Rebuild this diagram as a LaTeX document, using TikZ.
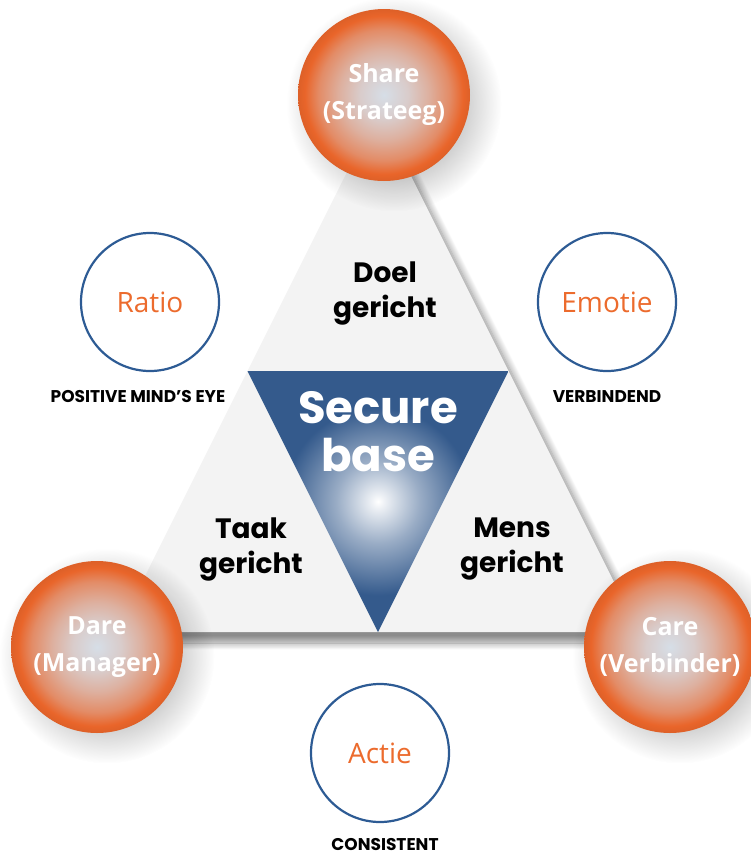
\documentclass[tikz,border=0pt]{standalone}
\usepackage{fontspec}
\setmainfont{Open Sans}
\newfontfamily\geofont{Poppins}
\usetikzlibrary{shadows.blur,fadings}
\usepackage{xcolor}

\definecolor{ballorange}{HTML}{E9652A}
\definecolor{ballmid}{HTML}{D6DEE7}
\definecolor{basefill}{HTML}{F3F3F3}
\definecolor{sbblue}{HTML}{345A8C}
\definecolor{ringblue}{HTML}{2D5B94}
\definecolor{labelorange}{HTML}{EC6B2D}

\pgfdeclareradialshading{ball}{\pgfpoint{0bp}{0bp}}{color(0bp)=(ballmid); color(7bp)=(ballmid!85!ballorange); color(13bp)=(ballmid!62!ballorange); color(19bp)=(ballmid!32!ballorange); color(23bp)=(ballorange); color(25bp)=(ballorange!95!black); color(50bp)=(ballorange!95!black)}
\pgfdeclareradialshading{glow}{\pgfpoint{0bp}{0bp}}{color(0bp)=(white); color(1.5bp)=(white!90!sbblue); color(8bp)=(sbblue!50!white); color(18bp)=(sbblue); color(50bp)=(sbblue)}
% soft round shadow: solid core, fuzzy rim
\pgfdeclareradialshading{softdiscshade}{\pgfpointorigin}{color(0bp)=(white); color(15bp)=(white); color(25bp)=(black); color(50bp)=(black)}
\pgfdeclarefading{softdisc}{\pgfuseshading{softdiscshade}}

\begin{document}
\begin{tikzpicture}[x=1pt,y=-1pt,
  ball/.style={circle,minimum size=172pt,inner sep=0pt,shading=ball,align=center,text=white,
    font=\bfseries\fontsize{25}{37}\selectfont},
  ballshadow/.style={circle,minimum size=215pt,inner sep=0pt,fill=black,fill opacity=.22,path fading=softdisc},
  ring/.style={circle,minimum size=138pt,inner sep=0pt,draw=ringblue,line width=2.2pt,text=labelorange,
    font=\fontsize{28}{34}\selectfont},
  side/.style={align=center,font=\geofont\bfseries\fontsize{28}{35}\selectfont},
  tag/.style={font=\geofont\bfseries\fontsize{17}{20}\selectfont}]
\useasboundingbox (0,0) rectangle (751,855);

% outer triangle and the secure base inside it
\coordinate (apex) at (378,110);
\coordinate (bl) at (117,632);
\coordinate (br) at (639,632);
\coordinate (ml) at (247.5,371);
\coordinate (mr) at (508.5,371);
\coordinate (mb) at (378,632);
\fill[basefill,blur shadow={shadow xshift=8pt,shadow yshift=-11pt,shadow blur radius=7pt,shadow blur steps=16,shadow opacity=45}] (apex) -- (bl) -- (br) -- cycle;
\shade[shading=glow] (ml) -- (mr) -- (mb) -- cycle;

\node[side] (doel) at (385,293) {Doel\\gericht};
\node[side] (taak) at (251,549) {Taak\\gericht};
\node[side] (mens) at (512,549) {Mens\\gericht};
\node[side,text=white,font=\geofont\bfseries\fontsize{45}{48}\selectfont] (secure) at (378,432) {Secure\\base};

% outer rings with their captions
\node[ring] (ratio) at (150,302) {Ratio};
\node[ring] (emotie) at (607,302) {Emotie};
\node[ring] (actie) at (380,753) {Actie};
\node[tag] (eye) at (138,397) {POSITIVE MIND’S EYE};
\node[tag] (verb) at (607,397) {VERBINDEND};
\node[tag] (cons) at (385,844) {CONSISTENT};

% orange balls on the corners
\node[ballshadow] (shareshade) at (394,104) {};
\node[ballshadow] (dareshade) at (107,656) {};
\node[ballshadow] (careshade) at (680,656) {};
\node[ball] (share) at (384,95) {Share\\(Strateeg)};
\node[ball] (dare) at (97,647) {Dare\\(Manager)};
\node[ball] (care) at (670,647) {Care\\(Verbinder)};
\end{tikzpicture}
\end{document}
